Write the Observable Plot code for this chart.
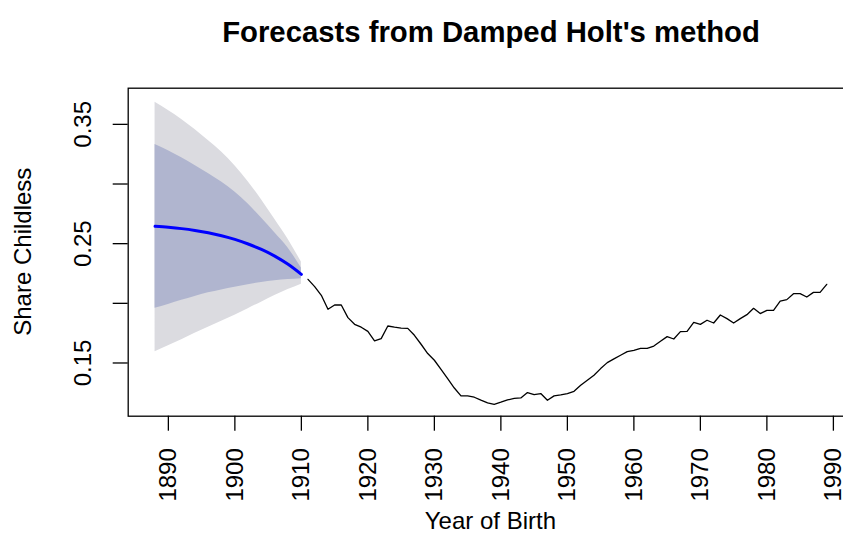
<!DOCTYPE html>
<html>
<head>
<meta charset="utf-8">
<script src="https://cdn.jsdelivr.net/npm/d3@7"></script>
<script src="https://cdn.jsdelivr.net/npm/@observablehq/plot@0.6"></script>
<style>
  html, body { margin: 0; padding: 0; background: white; overflow: hidden; }
  #chart { width: 843px; height: 535px; overflow: hidden; }
</style>
</head>
<body>
<div id="chart"></div>
<script>
// Observed series (year of birth, share childless)
const obsYears = d3.range(1911, 1990);
const obsValues = [
  0.2201, 0.2140, 0.2067, 0.1950, 0.1986, 0.1986, 0.1880, 0.1824, 0.1800, 0.1765,
  0.1686, 0.1704, 0.1810, 0.1800, 0.1793, 0.1790, 0.1732, 0.1657, 0.1579, 0.1523,
  0.1447, 0.1369, 0.1290, 0.1224, 0.1224, 0.1213, 0.1188, 0.1165, 0.1154, 0.1171,
  0.1190, 0.1204, 0.1207, 0.1252, 0.1235, 0.1244, 0.1188, 0.1224, 0.1232, 0.1244,
  0.1263, 0.1313, 0.1355, 0.1397, 0.1453, 0.1503, 0.1534, 0.1565, 0.1595, 0.1606,
  0.1623, 0.1623, 0.1642, 0.1682, 0.1721, 0.1701, 0.1763, 0.1765, 0.1841, 0.1824,
  0.1858, 0.1835, 0.1902, 0.1872, 0.1835, 0.1872, 0.1905, 0.1958, 0.1914, 0.1941,
  0.1941, 0.2019, 0.2031, 0.2081, 0.2081, 0.2053, 0.2092, 0.2092, 0.2159
];

// Forecast (back-cast) years and values
const fcYears = [1888, 1890, 1892, 1894, 1896, 1898, 1900, 1902, 1904, 1906, 1908, 1910];
const fcMean  = [0.2645, 0.2637, 0.2626, 0.2611, 0.2592, 0.2567, 0.2536, 0.2497, 0.2452, 0.2396, 0.2327, 0.2243];
const fcHi80  = [0.3332, 0.3279, 0.3220, 0.3156, 0.3089, 0.3016, 0.2933, 0.2832, 0.2715, 0.2592, 0.2464, 0.2296];
const fcLo80  = [0.1958, 0.1990, 0.2025, 0.2058, 0.2088, 0.2112, 0.2135, 0.2156, 0.2175, 0.2190, 0.2200, 0.2207];
const fcHi95  = [0.3686, 0.3616, 0.3541, 0.3457, 0.3365, 0.3268, 0.3153, 0.3019, 0.2868, 0.2704, 0.2536, 0.2346];
const fcLo95  = [0.1595, 0.1645, 0.1695, 0.1750, 0.1800, 0.1850, 0.1900, 0.1955, 0.2010, 0.2065, 0.2115, 0.2160];

// Axis ticks
const xTicks = [1890, 1900, 1910, 1920, 1930, 1940, 1950, 1960, 1970, 1980, 1990];
const yTicks = [0.15, 0.20, 0.25, 0.30, 0.35];
const yLabelTicks = [0.15, 0.25, 0.35];

const titleText = "Forecasts from Damped Holt's method";
const xLabel = "Year of Birth";
const yLabel = "Share Childless";

const obs = obsYears.map((year, i) => ({year, value: obsValues[i]}));
const fc = fcYears.map((year, i) => ({
  year, mean: fcMean[i], hi80: fcHi80[i], lo80: fcLo80[i], hi95: fcHi95[i], lo95: fcLo95[i]
}));

const FONT = "'Liberation Sans', Arial, Helvetica, sans-serif";
const W = 843, H = 535;
const mL = 127.7, mT = 87.7, mB = 535 - 415.7, mR = 843 - 853.1;

const chart = Plot.plot({
  width: W,
  height: H,
  marginLeft: mL,
  marginRight: mR,
  marginTop: mT,
  marginBottom: mB,
  style: {fontFamily: FONT, background: "white", overflow: "hidden", color: "black"},
  x: {domain: [1883.96, 1993.04]},
  y: {domain: [0.1054, 0.3803]},
  marks: [
    Plot.areaY(fc, {x: "year", y1: "lo95", y2: "hi95", fill: "#DBDBE0", curve: "monotone-x"}),
    Plot.areaY(fc, {x: "year", y1: "lo80", y2: "hi80", fill: "#B0B5CF", curve: "monotone-x"}),
    Plot.lineY(obs, {x: "year", y: "value", stroke: "black", strokeWidth: 1.3}),
    Plot.lineY(fc, {x: "year", y: "mean", stroke: "#0000FF", strokeWidth: 3, curve: "monotone-x"}),
    Plot.frame({stroke: "black", strokeWidth: 1.3}),
    Plot.axisX({
      ticks: xTicks, tickSize: 15, tickRotate: -90, tickPadding: 17,
      fontSize: 24, tickFormat: d => String(d), label: null, strokeWidth: 1.3
    }),
    Plot.axisY({ticks: yTicks, tickSize: 15, tickFormat: () => "", label: null, strokeWidth: 1.3}),
    Plot.axisY({
      ticks: yLabelTicks, tickSize: 0, tickRotate: -90, tickPadding: 37,
      fontSize: 24, tickFormat: d => d.toFixed(2), label: null
    })
  ]
});

const svg = d3.select(chart);
svg.append("text")
  .attr("x", 491).attr("y", 42)
  .attr("text-anchor", "middle")
  .attr("font-family", FONT).attr("font-size", 29.3).attr("font-weight", "bold")
  .attr("fill", "black")
  .text(titleText);
svg.append("text")
  .attr("x", 490.4).attr("y", 529)
  .attr("text-anchor", "middle")
  .attr("font-family", FONT).attr("font-size", 24)
  .attr("fill", "black")
  .text(xLabel);
svg.append("text")
  .attr("transform", "translate(31,251.7) rotate(-90)")
  .attr("text-anchor", "middle")
  .attr("font-family", FONT).attr("font-size", 24)
  .attr("fill", "black")
  .text(yLabel);

document.getElementById("chart").appendChild(chart);
</script>
</body>
</html>
